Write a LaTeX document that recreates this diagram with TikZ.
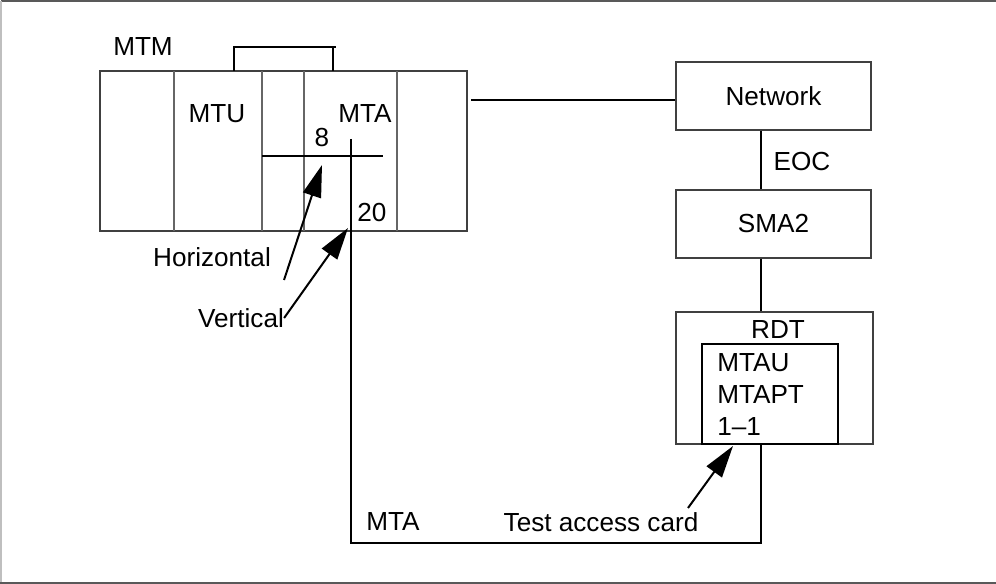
\documentclass[tikz,border=0pt]{standalone}
\usepackage{fontspec}
\setmainfont{Liberation Sans}
\usetikzlibrary{arrows.meta}
\tikzstyle{unit}=[draw=black!75, line width=0.8pt, inner sep=0pt]
\tikzstyle{card}=[draw, line width=1.6pt, inner sep=0pt]
\tikzstyle{lbl}=[inner sep=0pt]
\tikzstyle{wire}=[line width=1.5pt]
\tikzstyle{slot}=[draw=black!60, line width=0.8pt]
\tikzstyle{pointer}=[line width=1.5pt, -{Triangle[length=24pt, width=14pt]}]

\begin{document}
\begin{tikzpicture}[x=0.75pt, y=-0.75pt, font=\fontsize{19.6}{24}\selectfont]
        \useasboundingbox (0,0) rectangle (996,584);
        \draw[black!65, line width=1.5pt] (996,1) -- (1,1);
        \draw[black!25, line width=1.2pt] (0.8,1) -- (0.8,582);
        \draw[black!65, line width=1.5pt] (0,582.5) -- (996,582.5);

        \node[unit, minimum width=275.25pt, minimum height=120pt] (mtm) at (283.5,151) {};
        \foreach \x in {174,262,304,397}
            \draw[slot] (\x,71) -- (\x,231);
        \draw[wire] (234,71) |- (336,47);
        \draw[wire] (333,47) -- (333,71);
        \node[lbl] (mtmlbl) at (143,47) {MTM};
        \node[lbl] (mtu) at (217,114) {MTU};
        \node[lbl] (mtalbl) at (365,114) {MTA};
        \node[lbl] (hnum) at (322,138) {8};
        \node[lbl] (vnum) at (372,213) {20};
        \coordinate (hleft) at (262,156);
        \coordinate (hright) at (383,156);
        \draw[wire] (hleft) -- (hright);

        \node[unit, minimum width=146.25pt, minimum height=51pt] (net) at (773.5,96) {Network};
        \node[unit, minimum width=146.25pt, minimum height=51pt] (sma) at (773.5,224) {SMA2};
        \node[unit, minimum width=147.75pt, minimum height=99pt] (rdt) at (774.5,378) {};
        \node[card, minimum width=102pt, minimum height=75pt] (mtau) at (770,394) {};
        \node[lbl] (rdtlbl) at (778,330) {RDT};
        \node[lbl, anchor=west, align=left] (cardlbl) at (717,395) {MTAU\\MTAPT\\1--1};

        \coordinate (bus) at (761,0);
        \coordinate (mtmout) at (471,100);
        \draw[wire] (mtmout) -- (mtmout -| net.west);
        \draw[wire] (net.south -| bus) -- (sma.north -| bus);
        \draw[wire] (sma.south -| bus) -- (rdt.north -| bus);
        \node[lbl] (eoc) at (802,162) {EOC};

        \coordinate (mtatop) at (351,139);
        \coordinate (corner) at (351,543);
        \draw[wire] (mtatop) -- (corner) -| (rdt.south -| bus);
        \node[lbl] (mtabot) at (393,522) {MTA};
        \node[lbl] (test) at (601,522) {Test access card};
        \node[lbl] (horiz) at (212,257) {Horizontal};
        \node[lbl] (vert) at (241,318) {Vertical};

        \coordinate (htail) at (284,280);
        \coordinate (htip) at (322,165);
        \coordinate (vtip) at (348,228);
        \coordinate (ttail) at (688,508);
        \coordinate (ttip) at (733,446);
        \draw[pointer] (htail) -- (htip);
        \draw[pointer] (vert.east) -- (vtip);
        \draw[pointer] (ttail) -- (ttip);
    \end{tikzpicture}
\end{document}
